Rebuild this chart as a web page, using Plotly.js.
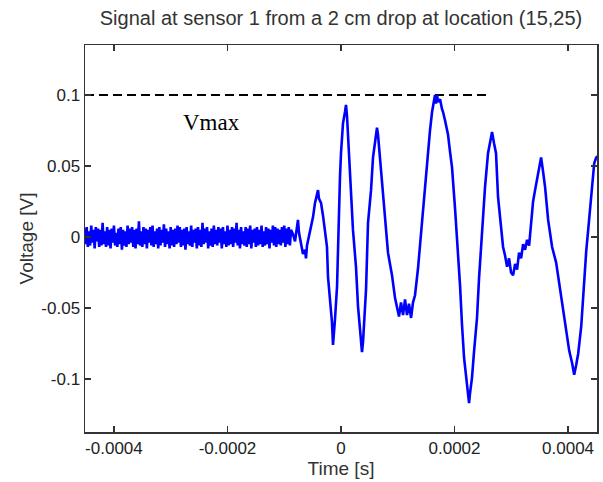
<!DOCTYPE html>
<html>
<head>
<meta charset="utf-8">
<script src="https://cdn.plot.ly/plotly-3.0.1.min.js"></script>
<style>html,body{margin:0;padding:0;background:#fff;}#chart{width:603px;height:482px;}</style>
</head>
<body>
<div id="chart"></div>
<script>
// Pre-trigger baseline noise, uniformly sampled (values in mV)
var baselineStartUs = -452;
var baselineStepUs = 2;
var baselineMv = [
 6,-5,7,-7,4,-6,8,-4,5,-8,7,-3,6,-7,5,-6,10,-5,4,-7,
 7,-6,5,-8,6,-4,8,-6,3,-7,6,-5,7,-9,5,-6,4,-7,8,-5,
 6,-4,7,-7,5,-8,6,-5,11,-6,4,-7,7,-5,6,-8,5,-4,7,-6,
 8,-7,4,-5,6,-8,7,-6,5,-4,9,-7,6,-5,4,-8,7,-6,5,-7,
 6,-5,8,-4,7,-7,5,-6,6,-9,7,-5,4,-6,8,-7,5,-4,6,-8,
 7,-6,5,-7,10,-5,6,-4,7,-8,4,-6,6,-7,8,-5,5,-6,7,-4,
 6,-8,7,-5,4,-7,8,-6,5,-5,7,-7,6,-4,10,-6,5,-8,7,-5,
 4,-6,7,-7,6,-5,8,-8,5,-4,6,-7,7,-6,5,-5,8,-7,4,-6,
 7,-5,6,-8,5,-4,8,-6,7,-7,6,-5,5,-6,7,-4,8,-7,6,-5,7,-6,5
];

// Signal after impact (time in microseconds, voltage in mV)
var signalUs = [
 -84.6,-81,-77.5,-75.8,-74,-70.5,-67,-63.4,-61.7,-59.9,-56.4,-52.9,-49.3,-45.8,-42.3,-40.5,-38.8,-35.2,-31.7,-28.2,
 -24.7,-22.9,-19.4,-15.9,-14.1,-12.3,-10.6,-7.0,-5.3,-3.5,-1.8,0,3.5,7.0,8.8,10.6,12.3,15.9,17.6,21.1,
 26.4,30.0,33.5,37.0,38.8,40.5,44.1,47.6,52.9,56.4,59.9,63.4,65.2,68.7,72.2,75.8,79.3,82.8,86.3,89.9,
 95.2,98.7,102.2,105.7,109.3,112.8,116.3,119.8,123.4,126.9,130.4,135.7,139.2,142.7,148.0,153.3,156.8,160.4,163.9,165.6,
 167.4,169.2,170.9,174.5,178.0,179.8,183.3,188.6,192.1,195.6,200.9,206.2,209.7,213.2,216.8,222.0,225.6,227.3,230.8,234.3,
 239.6,243.2,248.4,253.7,259.0,262.6,266.1,269.6,273.1,276.7,282.0,285.5,289.0,292.6,296.1,299.6,303.2,306.7,310.2,313.7,
 317.3,320.8,324.3,327.8,331.4,334.9,338.4,341.9,347.2,350.8,352.5,356.0,359.6,364.9,368.4,371.9,379.0,384.3,389.6,396.7,
 402.0,407.3,410.8,414.4,417.9,423.2,428.5,432.0,435.5,440.8,446.1,449.6,453.0
];
var signalMv = [
 2,-3,6,12,3,-6,-12,-9,-15,-6,0,8,14,24,30,33,27,24,15,2,
 -7,-28,-45,-60,-76,-68,-58,-35,-5,24,42,59,80,88,93,85,73,50,33,5,
 -21,-49,-65,-81,-74,-61,-37,10,33,56,68,77,72,56,40,21,5,-11,-19,-27,
 -43,-50,-56,-46,-55,-44,-55,-47,-57,-46,-41,-22,-5,8,37,60,75,88,96,100,
 94,100,95,97,90,88,82,72,60,49,20,-11,-34,-62,-85,-104,-117,-110,-99,-81,
 -57,-29,6,35,59,68,74,66,59,28,5,-7,-13,-21,-15,-25,-27,-19,-23,-11,
 -15,-5,-9,-2,-6,10,25,33,45,52,56,46,35,12,2,-7,-18,-32,-46,-63,
 -80,-89,-97,-90,-82,-63,-30,-10,5,31,52,56,57
];

// Reference level (Vmax) line
var vmaxLevel = 0.1;
var vmaxLineT = [-0.000451, 0.000257];
var vmaxLabel = 'Vmax';

var xTickVals = [-0.0004, -0.0002, 0, 0.0002, 0.0004];
var xTickText = ['-0.0004', '-0.0002', '0', '0.0002', '0.0004'];
var yTickVals = [0.1, 0.05, 0, -0.05, -0.1];
var yTickText = ['0.1', '0.05', '0', '-0.05', '-0.1'];

var t = [], v = [];
for (var i = 0; i < baselineMv.length; i++) {
  t.push((baselineStartUs + i * baselineStepUs) * 1e-6);
  v.push(baselineMv[i] * 1e-3);
}
for (var j = 0; j < signalUs.length; j++) {
  t.push(signalUs[j] * 1e-6);
  v.push(signalMv[j] * 1e-3);
}

var traces = [
  {x: vmaxLineT, y: [vmaxLevel, vmaxLevel], mode: 'lines', type: 'scatter',
   line: {color: '#000', width: 1.8, dash: '9px,5px'}, hoverinfo: 'skip'},
  {x: t, y: v, mode: 'lines', type: 'scatter',
   line: {color: '#0000ff', width: 2.6}}
];

var sans = 'Liberation Sans, Arial, sans-serif';
var axisCommon = {
  showgrid: false, zeroline: false, showline: true, mirror: 'ticks',
  linecolor: '#333', linewidth: 1.5, ticks: 'inside', ticklen: 6,
  tickcolor: '#333', tickwidth: 1.5,
  tickfont: {family: sans, size: 17, color: '#222'},
  tickmode: 'array'
};

var layout = {
  width: 603, height: 482,
  margin: {l: 85, r: 6, t: 45, b: 50},
  paper_bgcolor: '#fff', plot_bgcolor: '#fff',
  showlegend: false,
  title: {text: 'Signal at sensor 1 from a 2 cm drop at location (15,25)',
          font: {family: sans, size: 20, color: '#333'},
          x: 0.5655, xref: 'container', xanchor: 'center', y: 0.963, yanchor: 'middle'},
  xaxis: Object.assign({}, axisCommon, {
    range: [-0.000451, 0.000451],
    tickvals: xTickVals, ticktext: xTickText,
    title: {text: 'Time [s]', standoff: 0,
            font: {family: sans, size: 19, color: '#333'}}
  }),
  yaxis: Object.assign({}, axisCommon, {
    range: [-0.1373, 0.1352],
    tickvals: yTickVals, ticktext: yTickText,
    title: {text: 'Voltage [V]', standoff: 2,
            font: {family: sans, size: 19, color: '#333'}}
  }),
  annotations: [{
    x: -0.000229, y: 0.0805, xref: 'x', yref: 'y', text: vmaxLabel, showarrow: false,
    font: {family: 'Liberation Serif, Times New Roman, serif', size: 23, color: '#000'}
  }]
};

Plotly.newPlot('chart', traces, layout, {displayModeBar: false, staticPlot: true});
</script>
</body>
</html>
